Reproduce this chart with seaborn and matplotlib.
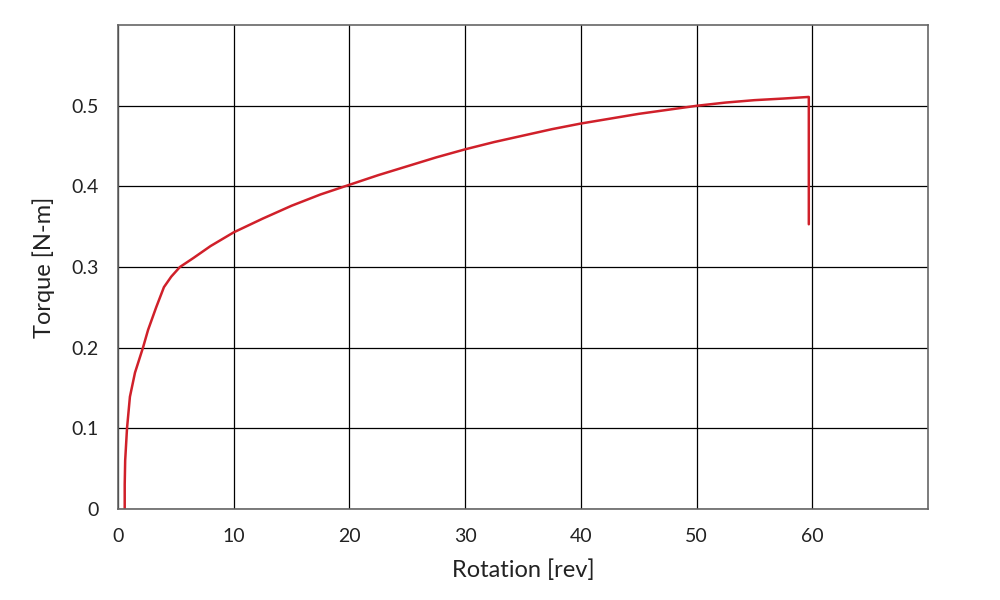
import matplotlib
matplotlib.use("Agg")
import matplotlib.pyplot as plt
import seaborn as sns
import pandas as pd

# torque vs rotation
rotation = [0.58, 0.58, 0.62, 0.78, 1.03, 1.47, 2.16, 2.6, 3.3, 3.97, 4.6, 5.35, 6.5,
            8.0, 10.0, 12.5, 15.0, 17.5, 20.0, 22.5, 25.0, 27.5, 30.0, 32.5, 35.0,
            37.5, 40.0, 42.5, 45.0, 47.5, 50.0, 52.5, 55.0, 57.5, 59.7, 59.7]
torque = [0.0, 0.03, 0.06, 0.1, 0.139, 0.169, 0.2, 0.222, 0.25, 0.275, 0.288, 0.3,
          0.311, 0.326, 0.343, 0.36, 0.376, 0.39, 0.402, 0.414, 0.425, 0.436, 0.446,
          0.455, 0.463, 0.471, 0.478, 0.484, 0.49, 0.495, 0.50, 0.504, 0.507, 0.509,
          0.511, 0.353]

x_ticks = [0, 10, 20, 30, 40, 50, 60]
y_ticks = [0, 0.1, 0.2, 0.3, 0.4, 0.5]
y_tick_labels = ["0", "0.1", "0.2", "0.3", "0.4", "0.5"]

df = pd.DataFrame({"rotation": rotation, "torque": torque})

sns.set_style("white")
plt.rcParams['font.family'] = ['Lato', 'DejaVu Sans']

fig = plt.figure(figsize=(10, 6), dpi=100)
ax = fig.add_axes([0.118, 0.152, 0.81, 0.806])

sns.lineplot(data=df, x="rotation", y="torque", sort=False, estimator=None,
             color="#d0202a", linewidth=1.8, ax=ax)

ax.set_xlim(0, 70)
ax.set_ylim(0, 0.6)
ax.set_xticks(x_ticks)
ax.set_yticks(y_ticks)
ax.set_yticklabels(y_tick_labels)
ax.grid(True, color="black", linewidth=0.9)
ax.set_axisbelow(True)
for s in ax.spines.values():
    s.set_color("#666666")
    s.set_linewidth(1.2)
ax.tick_params(axis="both", length=0, labelsize=14, colors="#222222")
ax.tick_params(axis="x", pad=14)
ax.tick_params(axis="y", pad=14)
ax.set_xlabel("Rotation [rev]", fontsize=17, color="#222222", labelpad=10)
ax.set_ylabel("Torque [N-m]", fontsize=17, color="#222222", labelpad=12)

fig.savefig("out.png", dpi=100)
